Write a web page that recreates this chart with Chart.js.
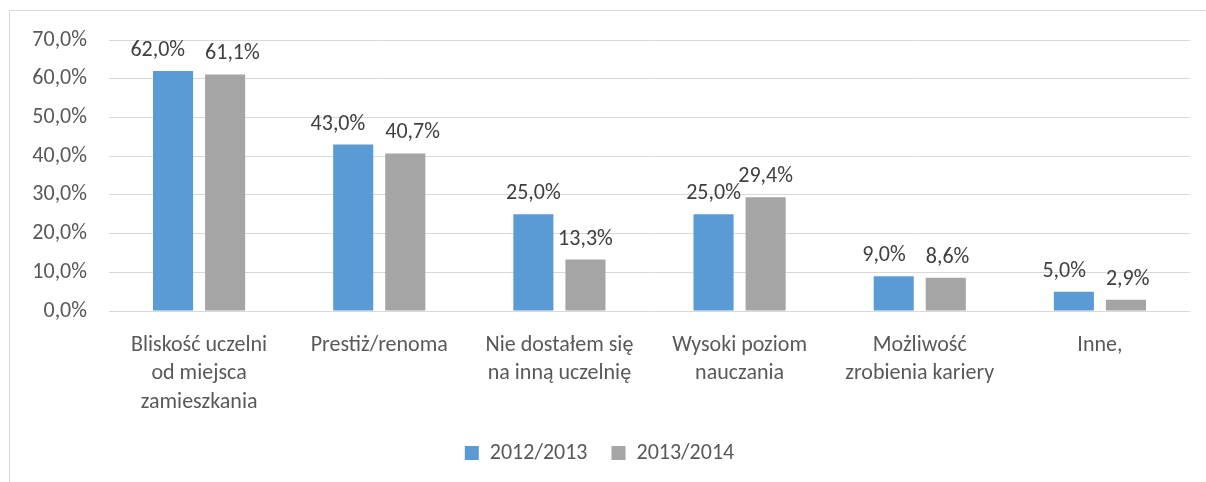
<!DOCTYPE html>
<html lang="pl">
<head>
<meta charset="utf-8">
<title>Wykres</title>
<script src="https://cdn.jsdelivr.net/npm/chart.js@4.4.1/dist/chart.umd.min.js"></script>
<style>
  html, body { margin: 0; padding: 0; background: #fff; }
  #wrap { position: relative; width: 1206px; height: 482px; }
</style>
</head>
<body>
<div id="wrap"><canvas id="chart" width="1206" height="482"></canvas></div>
<script>
// Chart data
const categories = [
  ['Bliskość uczelni', 'od miejsca', 'zamieszkania'],
  'Prestiż/renoma',
  ['Nie dostałem się', 'na inną uczelnię'],
  ['Wysoki poziom', 'nauczania'],
  ['Możliwość', 'zrobienia kariery'],
  'Inne,'
];
const seriesNames = ['2012/2013', '2013/2014'];
const values2012 = [62.0, 43.0, 25.0, 25.0, 9.0, 5.0];
const values2013 = [61.1, 40.7, 13.3, 29.4, 8.6, 2.9];
const yTicks = [0, 10, 20, 30, 40, 50, 60, 70];

const FONT = 'Carlito, Lato, sans-serif';
const SIZE = 22;

// Polish style percent: 62,0%
function pct(v) {
  return v.toFixed(1).replace('.', ',') + '%';
}

// Light frame round the chart (it runs off the right and bottom edge)
const framePlugin = {
  id: 'frame',
  beforeDraw(chart) {
    const ctx = chart.ctx;
    ctx.save();
    ctx.fillStyle = '#ffffff';
    ctx.fillRect(0, 0, chart.width, chart.height);
    ctx.strokeStyle = '#d9d9d9';
    ctx.lineWidth = 1;
    ctx.strokeRect(9.5, 10.5, 1400, 700);
    ctx.restore();
  }
};

// Value labels above each bar; labels of a pair that would collide get pushed apart
const valueLabels = {
  id: 'valueLabels',
  afterDatasetsDraw(chart) {
    const ctx = chart.ctx;
    ctx.save();
    ctx.font = SIZE + 'px ' + FONT;
    ctx.fillStyle = '#404040';
    ctx.textAlign = 'center';
    ctx.textBaseline = 'alphabetic';
    const a = chart.getDatasetMeta(0).data;
    const b = chart.getDatasetMeta(1).data;
    const dsA = chart.data.datasets[0].data;
    const dsB = chart.data.datasets[1].data;
    a.forEach((barA, j) => {
      const barB = b[j];
      const tA = pct(dsA[j]);
      const tB = pct(dsB[j]);
      const wA = ctx.measureText(tA).width;
      const wB = ctx.measureText(tB).width;
      let xA = barA.x;
      let xB = barB.x;
      const need = (wA + wB) / 2 + 20;
      if (Math.abs(barA.y - barB.y) < 14 && xB - xA < need) {
        const mid = (xA + xB) / 2;
        xA = mid - need / 2 - 4;
        xB = mid + need / 2 - 4;
      }
      ctx.fillText(tA, xA, barA.y - 15);
      ctx.fillText(tB, xB, barB.y - 15);
    });
    ctx.restore();
  }
};

new Chart(document.getElementById('chart'), {
  type: 'bar',
  data: {
    labels: categories,
    datasets: [{
      label: seriesNames[0],
      data: values2012,
      backgroundColor: '#5b9bd5',
      borderWidth: 0
    }, {
      label: seriesNames[1],
      data: values2013,
      backgroundColor: '#a5a5a5',
      borderWidth: 0
    }]
  },
  options: {
    responsive: false,
    animation: false,
    categoryPercentage: 0.578,
    barPercentage: 0.77,
    layout: {
      padding: { left: 9, right: 16, top: 40, bottom: 8 }
    },
    plugins: {
      legend: {
        position: 'bottom',
        labels: {
          color: '#595959',
          font: { family: FONT, size: SIZE },
          boxWidth: 14,
          boxHeight: 14,
          padding: 24
        }
      },
      tooltip: { enabled: false }
    },
    scales: {
      x: {
        grid: { display: false },
        border: { display: false },
        ticks: {
          color: '#595959',
          font: { family: FONT, size: SIZE, lineHeight: 1.3 },
          padding: 12,
          maxRotation: 0,
          autoSkip: false
        },
        afterFit(scale) { scale.height = 107; }
      },
      y: {
        min: yTicks[0],
        max: yTicks[yTicks.length - 1],
        afterBuildTicks(scale) {
          scale.ticks = yTicks.map(v => ({ value: v }));
        },
        grid: { color: '#d9d9d9', lineWidth: 1, drawTicks: false },
        border: { display: false },
        ticks: {
          color: '#595959',
          font: { family: FONT, size: SIZE },
          padding: 22,
          callback: v => pct(v)
        },
        afterFit(scale) { scale.width = 100; }
      }
    }
  },
  plugins: [framePlugin, valueLabels]
});
</script>
</body>
</html>
